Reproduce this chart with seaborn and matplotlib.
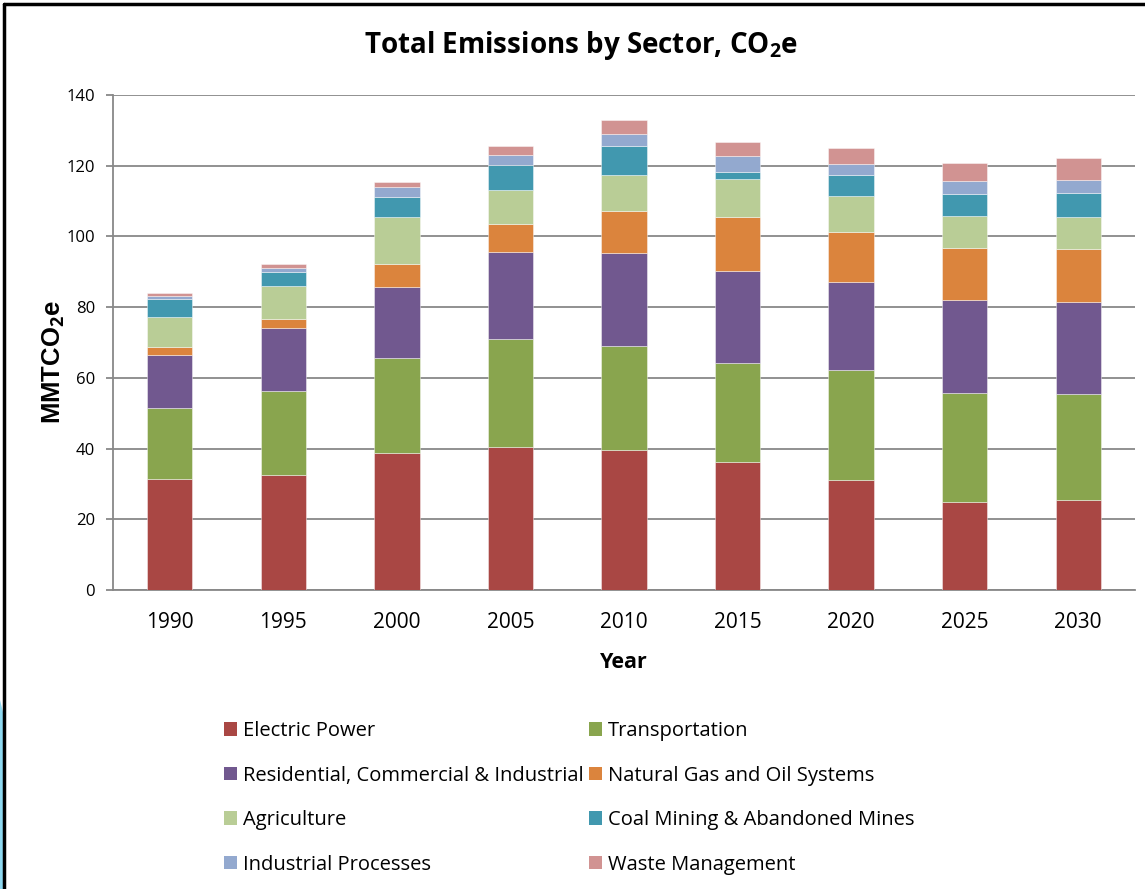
import numpy as np
import pandas as pd
import matplotlib
matplotlib.use("Agg")
import matplotlib.pyplot as plt
import seaborn as sns
from matplotlib.lines import Line2D
from matplotlib.patches import Patch, Polygon

# Emissions by sector (MMTCO2e)
years = ["1990", "1995", "2000", "2005", "2010", "2015", "2020", "2025", "2030"]
electric_power = [31.3, 32.4, 38.7, 40.4, 39.6, 36.3, 31.0, 24.9, 25.5]
transportation = [20.1, 24.0, 27.0, 30.5, 29.5, 27.8, 31.1, 30.8, 29.9]
res_com_ind = [15.2, 17.7, 20.1, 24.8, 26.3, 26.0, 25.1, 26.2, 26.1]
natural_gas_oil = [2.0, 2.6, 6.4, 7.8, 11.9, 15.5, 14.0, 14.9, 15.0]
agriculture = [8.7, 9.3, 13.4, 9.6, 10.2, 10.7, 10.1, 9.1, 9.1]
coal_mining = [4.9, 3.8, 5.6, 7.0, 8.2, 1.8, 6.2, 6.1, 6.6]
industrial_processes = [0.9, 1.4, 2.9, 2.9, 3.4, 4.6, 2.9, 3.8, 3.9]
waste_management = [1.0, 1.0, 1.4, 2.7, 3.8, 4.1, 4.7, 5.0, 6.1]

sectors = [
    ("Electric Power", electric_power, "#A94744"),
    ("Transportation", transportation, "#89A54E"),
    ("Residential, Commercial & Industrial", res_com_ind, "#71588F"),
    ("Natural Gas and Oil Systems", natural_gas_oil, "#DB843D"),
    ("Agriculture", agriculture, "#B9CD96"),
    ("Coal Mining & Abandoned Mines", coal_mining, "#4198AF"),
    ("Industrial Processes", industrial_processes, "#93A9CF"),
    ("Waste Management", waste_management, "#D19392"),
]

sns.set_theme(style="white")
plt.rcParams["font.family"] = ["Open Sans", "DejaVu Sans"]
plt.rcParams["mathtext.fontset"] = "custom"
plt.rcParams["mathtext.rm"] = "Open Sans"
plt.rcParams["mathtext.bf"] = "Open Sans:bold"
plt.rcParams["text.color"] = "black"
plt.rcParams["xtick.color"] = "black"
plt.rcParams["ytick.color"] = "black"

fig = plt.figure(figsize=(11.45, 8.89), dpi=100)
ax = fig.add_axes([113 / 1145, 1 - 590 / 889, (1135 - 113) / 1145, (590 - 95) / 889])

grid_color = "#888888"
bottom = np.zeros(len(years))
for name, vals, color in sectors:
    df = pd.DataFrame({"Year": years, "Value": vals})
    sns.barplot(data=df, x="Year", y="Value", order=years, color=color,
                width=0.4, errorbar=None, bottom=bottom, ax=ax,
                edgecolor=(1, 1, 1, 0.5), linewidth=0.6, saturation=1, zorder=3)
    bottom = bottom + np.asarray(vals)

ax.set_ylim(0, 140)
ax.set_xlim(-0.5, len(years) - 0.5)
ax.set_yticks(np.arange(0, 141, 20))
ax.yaxis.grid(True, color=grid_color, linewidth=1.3, zorder=0)
ax.set_axisbelow(True)
for s in ["top", "right"]:
    ax.spines[s].set_visible(False)
for s in ["left", "bottom"]:
    ax.spines[s].set_color(grid_color)
    ax.spines[s].set_linewidth(1.3)

ax.set_xlabel("")
ax.set_ylabel("")
ax.set_xticks(np.arange(-0.5, len(years), 1.0), minor=True)
ax.tick_params(axis="x", which="major", length=0, pad=16, labelsize=15, labelcolor="black")
ax.tick_params(axis="x", which="minor", length=5, width=1.3, color=grid_color, direction="out")
ax.tick_params(axis="y", which="major", length=5, width=1.3, color=grid_color,
               direction="out", pad=8, labelsize=12, labelcolor="black", left=True)

fig.text(581 / 1145, 1 - 46 / 889, r"Total Emissions by Sector, CO$_\mathbf{2}$e",
         ha="center", va="center", fontsize=20, fontweight="bold")
fig.text(54 / 1145, 1 - 362 / 889, r"MMTCO$_\mathbf{2}$e", rotation=90,
         ha="center", va="center", fontsize=18.5, fontweight="bold",
         family="Liberation Sans")
fig.text(624 / 1145, 1 - 662 / 889, "Year", ha="center", va="center",
         fontsize=15.5, fontweight="bold")

# Legend: row-major reading order in two columns
handles = [Patch(facecolor=c, edgecolor="none") for _, _, c in sectors]
labels = [n for n, _, _ in sectors]
order = [0, 2, 4, 6, 1, 3, 5, 7]
fig.legend([handles[i] for i in order], [labels[i] for i in order],
           ncol=2, loc="upper left", bbox_to_anchor=(224 / 1145, 1 - 721 / 889),
           frameon=False, fontsize=14.5, handlelength=0.65, handleheight=0.65,
           handletextpad=0.3, columnspacing=0.25, labelspacing=1.22,
           borderaxespad=0, borderpad=0)

# Slide frame around the chart
fig.add_artist(Line2D([4 / 1145, 1], [1 - 4 / 889, 1 - 4 / 889],
                      transform=fig.transFigure, color="black", linewidth=2.5))
fig.add_artist(Line2D([4 / 1145, 4 / 1145], [0, 1 - 4 / 889],
                      transform=fig.transFigure, color="black", linewidth=2.5))
fig.add_artist(Polygon([[0, 0], [3 / 1145, 0], [3 / 1145, 1 - 712 / 889],
                        [0, 1 - 700 / 889]], closed=True,
                       transform=fig.transFigure, facecolor="#8ED8F0",
                       edgecolor="none"))

fig.savefig("out.png", dpi=100)
